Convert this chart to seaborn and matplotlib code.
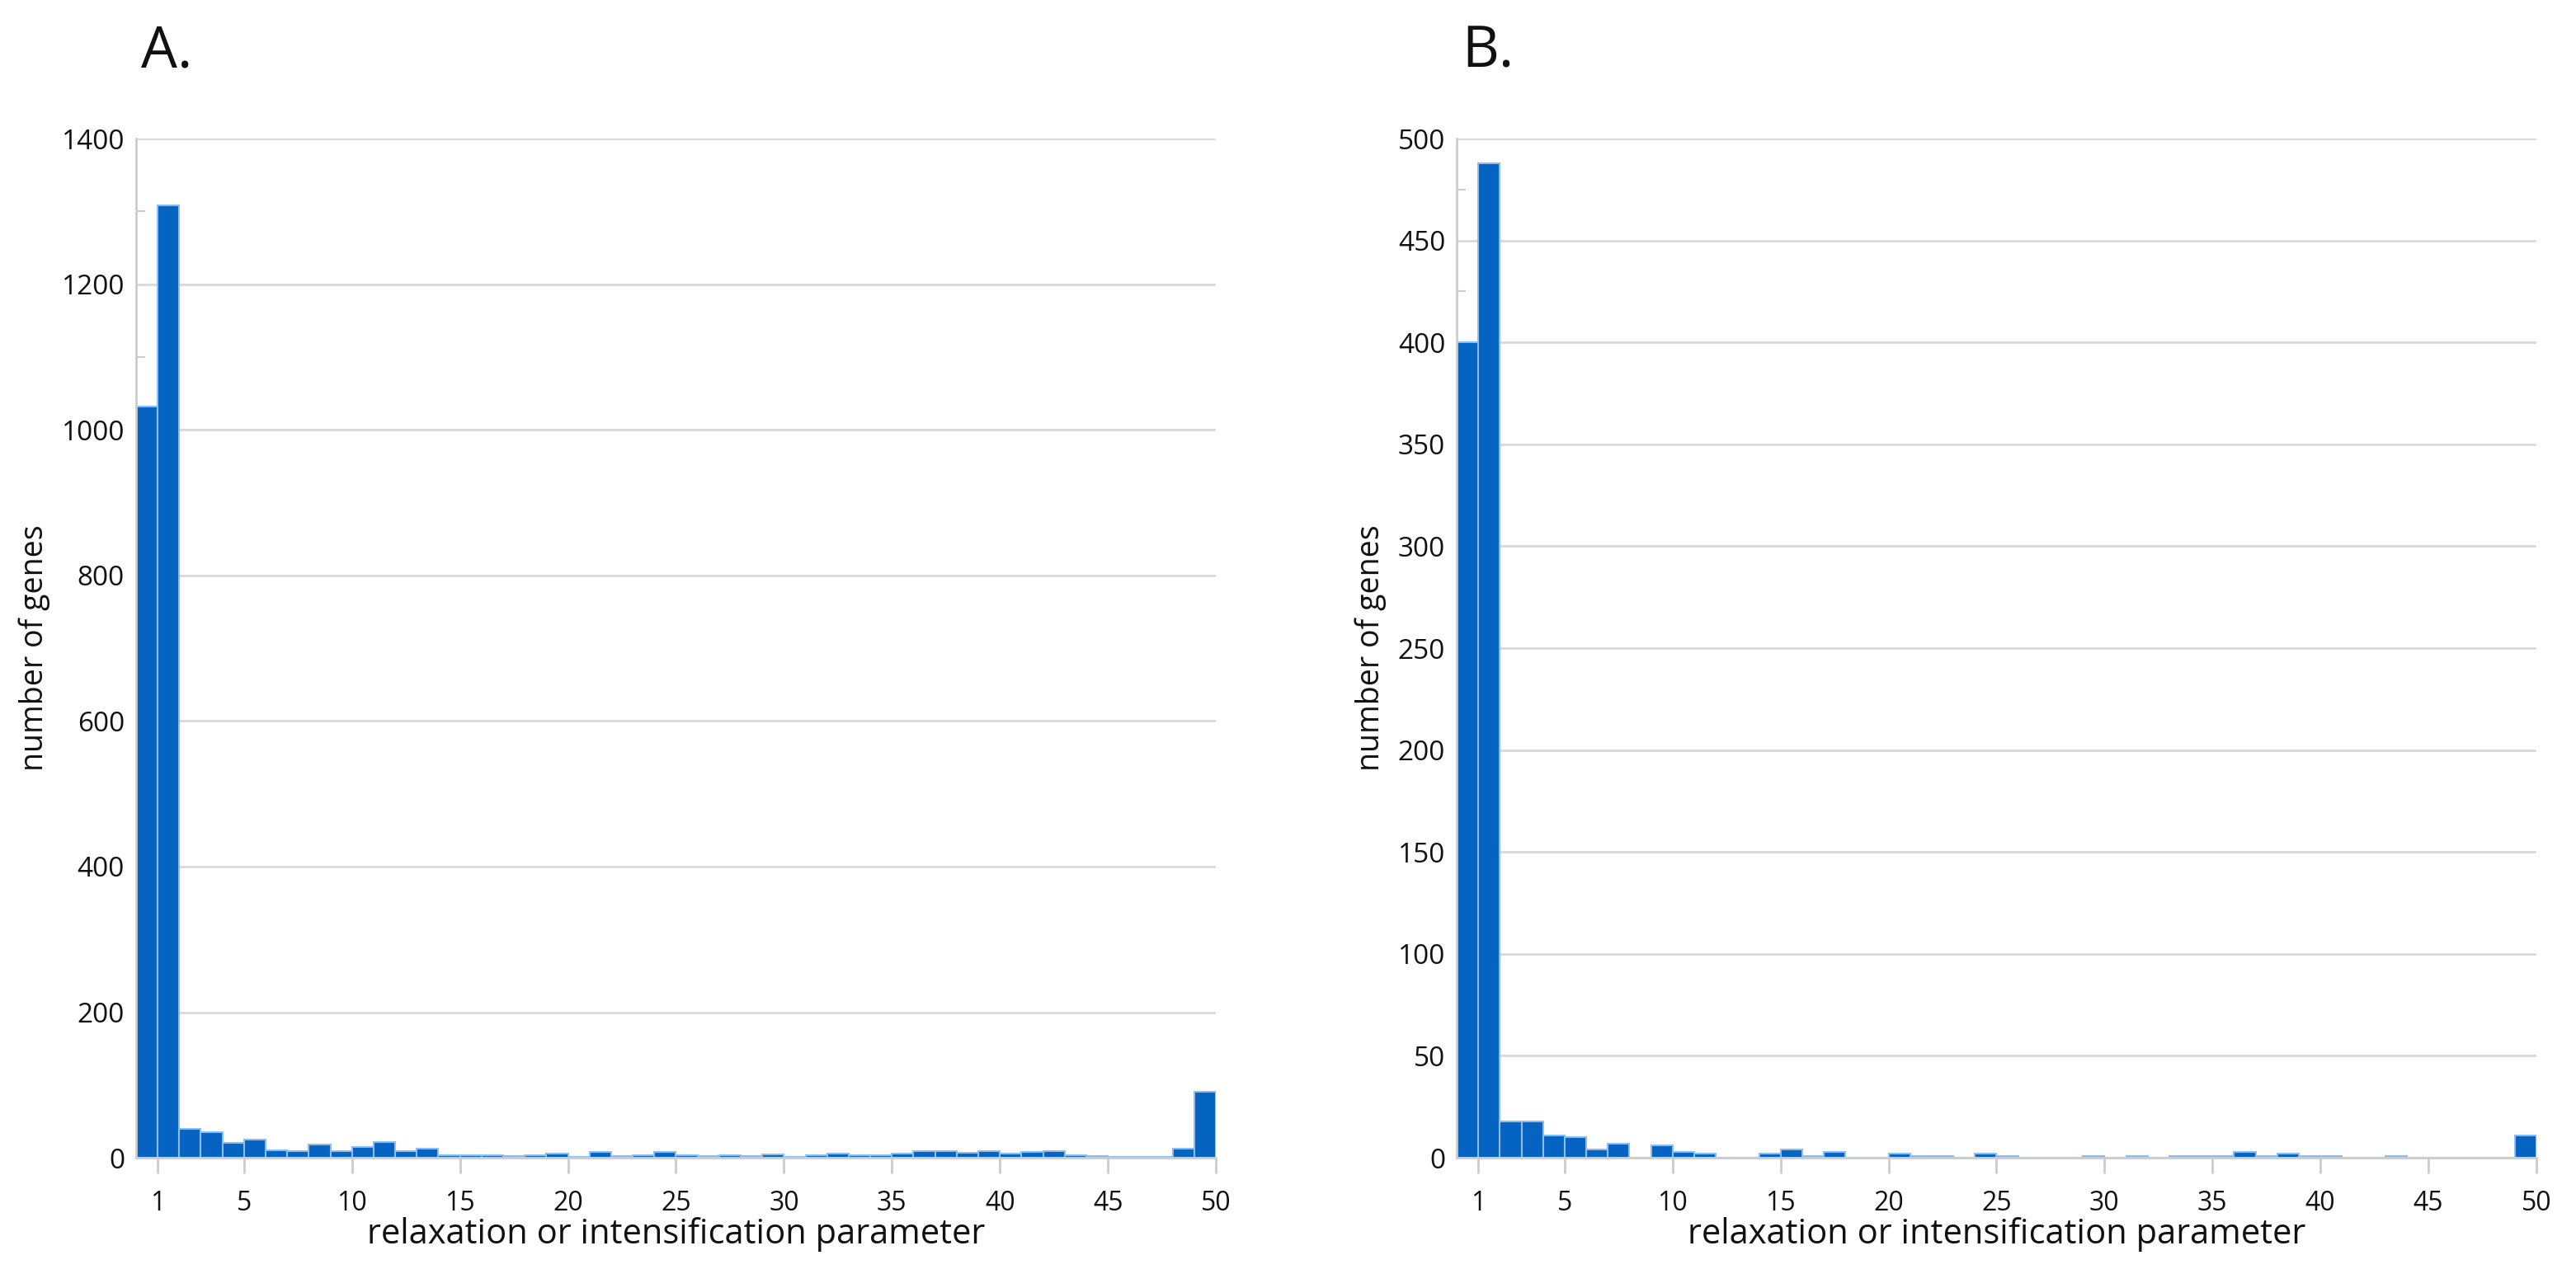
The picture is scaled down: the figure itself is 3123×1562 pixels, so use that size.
# histograms of the relaxation / intensification parameter (panels A and B)

import numpy as np
import pandas as pd
import seaborn as sns
import matplotlib.pyplot as plt
from matplotlib.ticker import MultipleLocator

# bins [0,1), [1,2), ... [49,50]
bin_left = list(range(0, 50))

counts_a = [1032, 1308, 40, 35, 21, 25, 10, 9, 18, 9,
            15, 22, 9, 13, 4, 4, 4, 2, 3, 6,
            1, 8, 2, 3, 8, 3, 2, 3, 2, 5,
            1, 4, 6, 3, 3, 6, 9, 9, 7, 9,
            6, 8, 9, 3, 2, 1, 1, 1, 13, 91]

counts_b = [400, 488, 18, 18, 11, 10, 4, 7, 0, 6,
            3, 2, 0, 0, 2, 4, 1, 3, 0, 0,
            2, 1, 1, 0, 2, 1, 0, 0, 0, 1,
            0, 1, 0, 1, 1, 1, 3, 1, 2, 1,
            1, 0, 0, 1, 0, 0, 0, 0, 0, 11]

xticks = [1, 5, 10, 15, 20, 25, 30, 35, 40, 45, 50]

sns.set_theme(style="white")
plt.rcParams['font.family'] = ['Open Sans', 'DejaVu Sans']
plt.rcParams['text.color'] = '#111111'
plt.rcParams['axes.labelcolor'] = '#111111'
plt.rcParams['xtick.labelcolor'] = '#111111'
plt.rcParams['ytick.labelcolor'] = '#111111'

bar_color = '#0563C1'
edge_color = '#8dbdf0'
grid_color = '#d9d9d9'

fig = plt.figure(figsize=(31.23, 15.62), dpi=100)
ax_a = fig.add_axes([0.0528, 0.1011, 0.4192, 0.7913])
ax_b = fig.add_axes([0.5655, 0.1011, 0.4191, 0.7913])

panels = [(ax_a, counts_a, 1400, 200, 100, "A."),
          (ax_b, counts_b, 500, 50, 25, "B.")]

for ax, counts, ymax, major, minor, letter in panels:
    df = pd.DataFrame({"param": [b + 0.5 for b in bin_left], "genes": counts})
    sns.histplot(data=df, x="param", weights="genes", binwidth=1, binrange=(0, 50),
                 color=bar_color, edgecolor=edge_color, linewidth=1.5,
                 alpha=1, ax=ax)
    ax.set_xlim(0, 50)
    ax.set_ylim(0, ymax)
    ax.set_xticks(xticks)
    ax.yaxis.set_major_locator(MultipleLocator(major))
    ax.yaxis.set_minor_locator(MultipleLocator(minor))
    ax.grid(which='major', axis='y', color=grid_color, linewidth=2)
    ax.set_axisbelow(True)

    for side in ['top', 'right']:
        ax.spines[side].set_visible(False)
    for side in ['left', 'bottom']:
        ax.spines[side].set_color('#cccccc')
        ax.spines[side].set_linewidth(2)

    ax.tick_params(axis='x', which='major', direction='out', length=14, width=2,
                   color='#cccccc', labelsize=23, pad=14, bottom=True)
    ax.tick_params(axis='y', which='major', length=0, labelsize=24, pad=10, left=True)
    ax.tick_params(axis='y', which='minor', direction='in', length=8, width=1.5,
                   color='#cccccc', left=True)

    ax.set_xlabel('relaxation or intensification parameter', fontsize=30, labelpad=0)
    ax.set_ylabel('number of genes', fontsize=27, labelpad=10)

    pos = ax.get_position()
    fig.text(pos.x0 + 0.002, 1 - 82 / 1562, letter, fontsize=50, va='baseline', ha='left')

fig.savefig("out.png", dpi=100)
